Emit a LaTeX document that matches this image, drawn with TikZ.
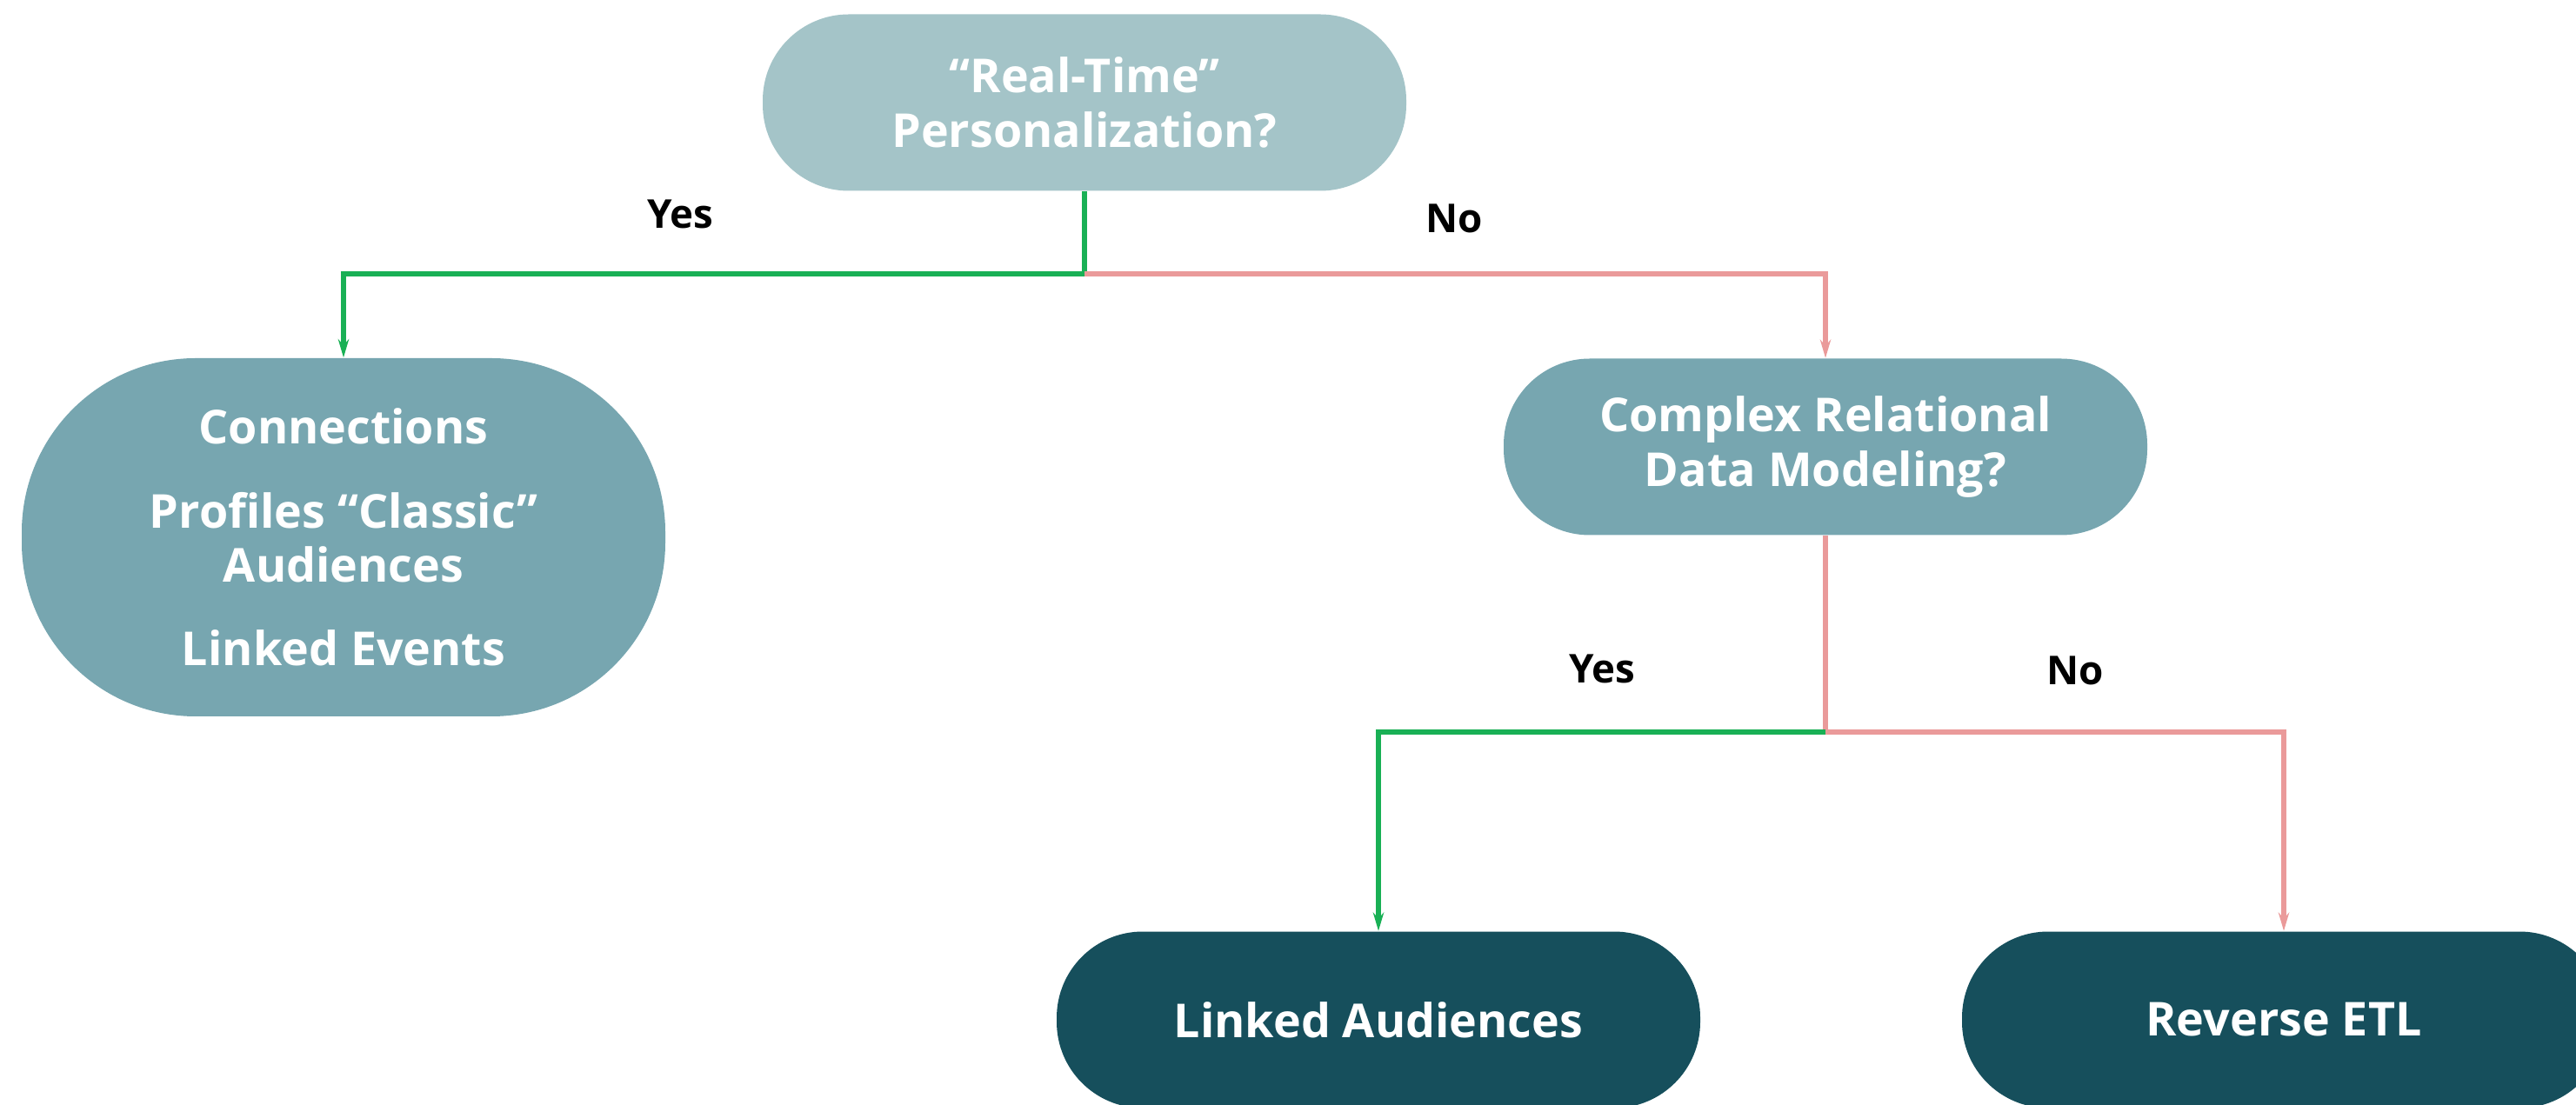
\documentclass[tikz,border=0pt]{standalone}
\usepackage{fontspec}
\setmainfont{Open Sans}
\usetikzlibrary{arrows.meta}
\definecolor{qpale}{HTML}{A4C4C8}
\definecolor{qmid}{HTML}{77A6B0}
\definecolor{qdark}{HTML}{164F5C}
\definecolor{yesgreen}{HTML}{19B055}
\definecolor{nopink}{HTML}{EA9A9A}
\tikzset{
    pill/.style={fill=#1, text=white, rounded corners=0.99cm, minimum width=7.4cm,
        minimum height=2.03cm, align=center, font=\fontsize{15.3}{17.7}\selectfont\bfseries},
    yesline/.style={draw=yesgreen, line width=1.6pt},
    noline/.style={draw=nopink, line width=1.6pt},
    answer/.style={font=\fontsize{13}{16}\selectfont\bfseries}
}
\begin{document}
\begin{tikzpicture}[>={Stealth[length=6pt,width=3.5pt]}]
    \clip (0,0) rectangle (29.62,12.70);
    \useasboundingbox (0,0) rectangle (29.62,12.70);

    \node[pill=qpale] (rt) at (12.47,11.52) {``Real-Time''\\Personalization?};
    \node[pill=qmid, minimum height=4.12cm, rounded corners=2cm] (classic) at (3.95,6.52)
        {Connections\\[0.34cm]Profiles ``Classic''\\Audiences\\[0.34cm]Linked Events};
    \node[pill=qmid] (crdm) at (20.99,7.56) {Complex Relational\\Data Modeling?};
    \node[pill=qdark] (linked) at (15.85,0.97) {Linked Audiences};
    \node[pill=qdark] (retl) at (26.26,0.97) {Reverse ETL};

    \coordinate (split1) at (rt.south |- 0,9.55);
    \coordinate (split2) at (crdm.south |- 0,4.28);

    \draw[yesline] (rt.south) -- (split1);
    \draw[yesline, ->] (split1) -| (classic.north);
    \draw[noline, ->] (split1) -| (crdm.north);

    \draw[noline] (crdm.south) -- (split2);
    \draw[yesline, ->] (split2) -| (linked.north);
    \draw[noline, ->] (split2) -| (retl.north);

    \node[answer] (yes1) at (7.82,10.24) {Yes};
    \node[answer] (no1) at (16.72,10.19) {No};
    \node[answer] (yes2) at (18.42,5.01) {Yes};
    \node[answer] (no2) at (23.86,4.99) {No};
\end{tikzpicture}
\end{document}
